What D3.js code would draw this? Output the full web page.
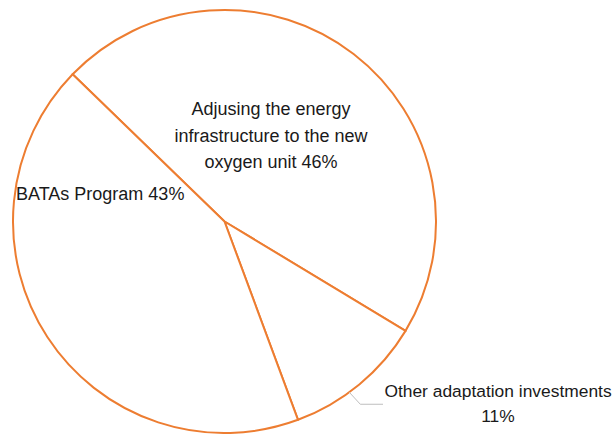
<!DOCTYPE html>
<html>
<head>
<meta charset="utf-8">
<script src="https://cdn.jsdelivr.net/npm/d3@7"></script>
<style>
  html, body { margin: 0; padding: 0; background: #fff; }
  svg { display: block; }
  .lbl { font-family: "Liberation Sans", Arial, sans-serif; fill: #1a1a1a; }
</style>
</head>
<body>
<div id="visHolder"></div>
<script>
var width = 613;
var height = 434;

// slice data (clockwise from the upper-left boundary)
var categories = ["Adjusing the energy infrastructure to the new oxygen unit", "Other adaptation investments", "BATAs Program"];
var values = [46.4, 10.7, 42.9];
var labelLines = [
  ["Adjusing the energy", "infrastructure to the new", "oxygen unit 46%"],
  ["Other adaptation investments", "11%"],
  ["BATAs Program 43%"]
];

var cx = 224.5, cy = 221.5, radius = 211.5;
var startDeg = -45.9;

var svg = d3.select("#visHolder")
  .append("svg")
  .attr("width", width)
  .attr("height", height);

var pie = d3.pie()
  .sort(null)
  .value(function (d) { return d; })
  .startAngle(startDeg * Math.PI / 180)
  .endAngle((startDeg + 360) * Math.PI / 180);

var arc = d3.arc().innerRadius(0).outerRadius(radius);

var arcs = pie(values);

var g = svg.append("g").attr("transform", "translate(" + cx + "," + cy + ")");

g.selectAll("path")
  .data(arcs)
  .enter()
  .append("path")
  .attr("d", arc)
  .attr("fill", "#fff")
  .attr("stroke", "#ED7D31")
  .attr("stroke-width", 2)
  .attr("stroke-linejoin", "round");

// label placement (x, y of first line, anchor, line step, size)
var labelPos = [
  { x: 271, y: 115, anchor: "middle", step: 26.5, size: 18 },
  { x: 498, y: 397, anchor: "middle", step: 25, size: 17.4 },
  { x: 16, y: 200, anchor: "start", step: 25, size: 18 }
];

labelLines.forEach(function (lines, i) {
  var p = labelPos[i];
  var t = svg.append("text")
    .attr("class", "lbl")
    .attr("text-anchor", p.anchor)
    .attr("font-size", p.size);
  lines.forEach(function (s, j) {
    t.append("tspan")
      .attr("x", p.x)
      .attr("y", p.y + j * p.step)
      .text(s);
  });
});

// leader line for the small slice
var mid = (arcs[1].startAngle + arcs[1].endAngle) / 2;
var edge = [cx + radius * Math.sin(mid + 0.06), cy - radius * Math.cos(mid + 0.06)];
svg.append("polyline")
  .attr("points", [edge, [edge[0] + 11, edge[1] + 12], [383, edge[1] + 12]].map(function (p) { return p.join(","); }).join(" "))
  .attr("fill", "none")
  .attr("stroke", "#BFBFBF")
  .attr("stroke-width", 1);
</script>
</body>
</html>
